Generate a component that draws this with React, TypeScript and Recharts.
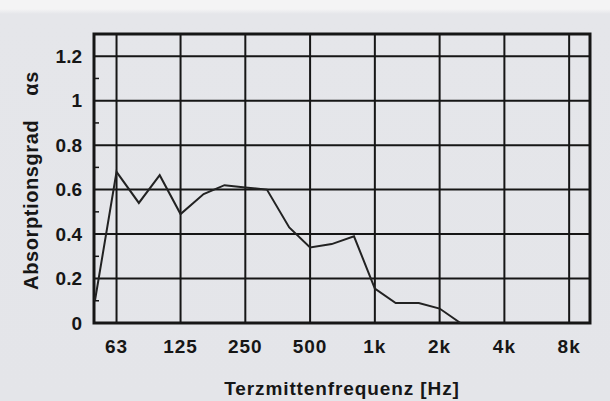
import React from 'react'
import {
  LineChart, Line, XAxis, YAxis, CartesianGrid, ReferenceArea,
} from 'recharts'

// third-octave band centre frequencies [Hz]
const frequencies = [50, 63, 80, 100, 125, 160, 200, 250, 315, 400, 500, 630, 800, 1000, 1250, 1600, 2000, 2500]
// absorption coefficient alpha_s
const absorption = [0.1, 0.68, 0.54, 0.665, 0.49, 0.58, 0.62, 0.61, 0.6, 0.43, 0.34, 0.355, 0.39, 0.155, 0.09, 0.09, 0.065, 0]

const xTicks = [63, 125, 250, 500, 1000, 2000, 4000, 8000]
const xTickLabels = ['63', '125', '250', '500', '1k', '2k', '4k', '8k']
const yTicks = [0, 0.2, 0.4, 0.6, 0.8, 1, 1.2]
const yMinorTicks = [0.1, 0.3, 0.5, 0.7, 0.9, 1.1]

const data = frequencies.map((f, i) => ({ f, a: absorption[i] }))

const FONT = '"Liberation Sans", Arial, Helvetica, sans-serif'
const INK = '#161616'

function YTitle(props: any) {
  const vb = props.viewBox
  const cx = 31
  const cy = vb.y + vb.height / 2 + 2
  return (
    <text
      x={cx}
      y={cy}
      transform={`rotate(-90, ${cx}, ${cy})`}
      textAnchor="middle"
      dominantBaseline="central"
      fontFamily={FONT}
      fontWeight="bold"
      fontSize={20}
      letterSpacing={0.6}
      fill={INK}
    >
      <tspan>Absorptionsgrad</tspan>
      <tspan dx={24}>αs</tspan>
    </text>
  )
}

// small inward marks on the left frame at the odd tenths
function MinorTick(props: any) {
  const { y } = props
  const x0 = props.viewBox ? props.viewBox.x : 95
  return <line x1={95} y1={y} x2={99} y2={y} stroke={INK} strokeWidth={1.5} data-x={x0} />
}

export default function App() {
  return (
    <div
      style={{
        position: 'absolute',
        left: 0,
        top: 0,
        width: 610,
        height: 401,
        background: 'linear-gradient(#f4f4f5 0px, #f4f4f5 9px, #e5e6ea 14px, #e4e5e9 100%)',
      }}
    >
      <LineChart
        width={610}
        height={401}
        data={data}
        margin={{ top: 34, right: 20, bottom: 0, left: 0 }}
      >
        <CartesianGrid
          stroke={INK}
          strokeWidth={2}
          horizontalValues={yTicks}
          verticalValues={xTicks}
        />
        <XAxis
          dataKey="f"
          type="number"
          scale="log"
          domain={[49.5, 10000]}
          ticks={xTicks}
          tickFormatter={(v: number) => xTickLabels[xTicks.indexOf(v)]}
          allowDataOverflow
          height={78}
          axisLine={false}
          tickLine={false}
          tickSize={0}
          tickMargin={17}
          tick={{ fontFamily: FONT, fontWeight: 'bold', fontSize: 19, letterSpacing: 1, fill: INK }}
          label={{
            value: 'Terzmittenfrequenz  [Hz]',
            position: 'insideBottom',
            offset: 6,
            style: { fontFamily: FONT, fontWeight: 'bold', fontSize: 19, letterSpacing: 0.9, fill: INK, whiteSpace: 'pre' },
          }}
        />
        <YAxis
          yAxisId="minor"
          orientation="left"
          type="number"
          domain={[0, 1.3]}
          ticks={yMinorTicks}
          allowDataOverflow
          interval={0}
          mirror
          width={1}
          axisLine={false}
          tickLine={false}
          tickSize={0}
          tickMargin={0}
          tick={(p: any) => <MinorTick {...p} />}
        />
        <YAxis
          type="number"
          domain={[0, 1.3]}
          ticks={yTicks}
          allowDataOverflow
          width={94}
          axisLine={false}
          tickLine={false}
          tickSize={0}
          tickMargin={12}
          tick={{ fontFamily: FONT, fontWeight: 'bold', fontSize: 19, fill: INK }}
          label={{ content: <YTitle /> }}
        />
        <ReferenceArea
          x1={49.5}
          x2={10000}
          y1={0}
          y2={1.3}
          fill="none"
          stroke={INK}
          strokeWidth={3}
          ifOverflow="visible"
        />
        <Line
          type="linear"
          dataKey="a"
          stroke="#222"
          strokeWidth={2}
          dot={false}
          isAnimationActive={false}
        />
      </LineChart>
    </div>
  )
}
